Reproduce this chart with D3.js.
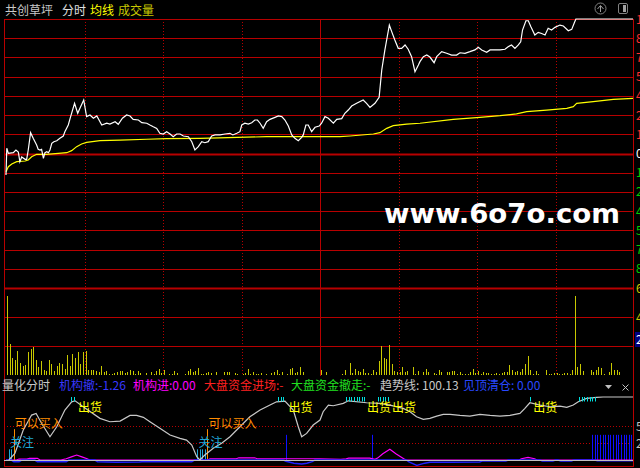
<!DOCTYPE html>
<html><head><meta charset="utf-8">
<script src="https://cdn.jsdelivr.net/npm/d3@7"></script>
<style>html,body{margin:0;padding:0;background:#000;overflow:hidden}svg{display:block}</style>
</head><body><svg id="c" width="640" height="468"></svg>
<script>
// ---------------- DATA ----------------
const stockName = "共创草坪";
const headerTabs = [["分时","#e0e0e0"],["均线","#ffff00"],["成交量","#c8c800"]];
// price line: [minute index, change %]
const priceLine = [[0,-1.60],[0.3,0.39],[0.9,0.01],[2.8,0.06],[3.8,0.26],[4.7,0.11],[5.3,-0.61],[6.0,-0.26],[7.3,-0.43],[7.9,-0.43],[8.5,0.26],[9.4,1.55],[10.4,1.13],[11.7,0.63],[12.3,0.31],[13.0,0.26],[13.6,0.31],[14.3,-0.36],[14.9,0.06],[15.6,0.13],[16.2,0.06],[16.8,0.26],[17.5,0.76],[18.3,0.88],[19.4,0.95],[20.6,1.13],[21.9,1.30],[22.5,1.62],[23.8,2.12],[24.7,2.74],[26.2,3.73],[27.4,2.99],[28.3,3.38],[29.7,3.98],[30.8,2.74],[32.1,2.86],[33.4,2.62],[34.7,2.79],[36.6,2.12],[38.5,2.25],[39.7,2.19],[41.7,2.36],[42.9,2.17],[44.5,2.62],[46.1,2.86],[47.4,2.79],[48.6,2.54],[50.6,2.49],[51.9,2.29],[53.8,2.25],[55.0,2.12],[56.3,1.99],[57.6,1.87],[58.8,1.50],[60.1,1.45],[61.4,1.62],[62.7,1.45],[63.9,1.25],[65.2,1.45],[66.5,1.45],[67.8,1.30],[69.7,1.25],[71.0,0.88],[72.2,0.26],[73.5,0.51],[74.8,0.88],[76.0,0.80],[77.3,0.88],[78.6,1.30],[79.9,1.38],[81.8,1.38],[83.7,1.45],[85.6,1.50],[86.7,1.38],[88.2,1.50],[89.4,1.62],[90.1,2.12],[91.3,2.25],[92.6,2.19],[93.9,2.29],[95.1,2.49],[96.1,2.49],[97.1,2.25],[98.3,1.87],[99.6,2.36],[100.9,2.54],[102.8,2.69],[104.1,2.79],[105.4,2.74],[106.6,2.49],[107.9,2.04],[109.2,1.38],[110.4,1.13],[111.7,0.95],[113.0,1.20],[113.6,1.38],[114.6,2.12],[115.5,2.12],[116.8,1.62],[118.1,1.95],[119.7,2.04],[120.6,2.25],[121.9,2.74],[123.2,2.62],[125.1,2.25],[126.4,2.54],[128.3,2.59],[129.5,2.99],[130.8,3.23],[132.1,3.53],[134.0,3.73],[136.5,3.98],[137.8,3.73],[139.1,3.43],[141.0,3.73],[142.6,4.18],[143.6,6.21],[144.8,7.70],[145.7,8.68],[146.5,9.55],[147.4,9.06],[148.6,8.44],[149.9,7.82],[151.2,7.82],[152.5,8.07],[153.7,7.75],[155.0,7.20],[156.3,6.08],[157.6,6.58],[158.2,6.83],[159.5,7.20],[160.8,7.32],[162.0,7.17],[163.6,6.75],[164.6,7.20],[166.5,7.57],[168.4,7.45],[170.3,7.32],[172.2,7.32],[173.5,7.49],[175.4,7.45],[177.3,7.57],[179.2,7.70],[180.5,7.90],[181.8,7.70],[183.7,7.52],[185.0,7.70],[188.8,7.70],[190.7,7.75],[191.9,7.94],[193.2,8.07],[194.5,7.82],[195.8,8.07],[196.7,8.31],[197.4,9.18],[198.7,9.87],[199.6,9.87],[200.6,9.43],[202.1,8.81],[203.4,9.01],[204.7,8.92],[206.0,8.81],[207.2,9.31],[208.5,9.18],[209.8,9.38],[211.7,9.55],[213.0,9.48],[214.9,9.13],[216.2,9.23],[217.2,9.72],[217.8,10.00],[240,10.00]];
// average price line: [minute, change %]
const avgLine = [[0,-1.35],[0.9,-0.98],[2.2,-0.78],[4.1,-0.61],[7.3,-0.56],[8.5,-0.48],[9.8,-0.24],[11.7,-0.06],[15.5,-0.06],[20.0,0.01],[23.2,0.06],[25.1,0.21],[27.0,0.51],[28.9,0.71],[30.8,0.83],[35.9,0.95],[43.6,1.00],[53.8,1.06],[61.4,1.10],[74.1,1.13],[99.6,1.25],[127.6,1.25],[131.5,1.30],[140.4,1.45],[142.9,1.55],[145.5,1.87],[148.0,2.07],[153.1,2.19],[158.2,2.25],[170.9,2.54],[181.1,2.69],[188.8,2.81],[195.1,2.94],[199.0,3.11],[206.6,3.23],[214.3,3.36],[216.8,3.48],[218.1,3.73],[224.4,3.85],[232.1,4.03],[240,4.10]];
// volume per minute (hands), index = minute 0..240
const volume = [5530,2170,1190,1050,1680,840,630,700,1610,1820,
1960,1050,560,980,350,280,1050,770,280,630,
840,770,420,1400,630,1470,1190,1610,770,1610,
1680,350,350,350,280,210,630,210,280,70,
70,140,210,280,280,140,210,350,280,70,
280,140,0,140,0,210,70,280,420,140,
350,0,70,70,280,140,0,0,70,280,
420,210,280,490,70,70,140,210,140,0,
210,0,0,210,210,210,0,140,70,0,
70,140,420,70,210,70,70,140,0,70,
0,140,210,350,70,210,0,70,420,490,
140,210,560,210,0,0,0,0,0,0,
350,0,210,0,0,0,0,0,70,350,
0,840,140,420,280,210,420,140,140,70,
350,210,980,2030,1190,1120,2100,770,280,210,
210,560,210,280,0,560,70,280,0,210,
420,210,0,140,70,350,210,0,210,210,
280,280,70,210,70,70,70,210,420,140,
280,70,210,140,140,70,70,140,70,140,
210,210,700,350,210,280,210,420,770,1330,
350,70,280,70,0,0,350,70,70,140,
140,70,70,140,140,70,350,5530,560,770,
280,0,0,350,210,350,560,490,70,0,
210,840,350,350,210,0,0,0,0,0,
0];
const priceTickSteps = [-7,-6,-5,-4,-3,-2,-1,0,1,2,3,4,5,6,7]; // ×10/7 %
const volTicks = [2030,4060,6090];
const timeTicks = [30,60,90,120,150,180,210];
// indicator (量化分时)
const trendLine = [[1.1,0],[3.4,10.6],[6.6,47.6],[9.8,71.4],[11.5,74.1],[13.6,58.3],[16.8,37.0],[19.4,52.9],[22.5,79.4],[25.1,92.5],[26.4,94.1],[29.5,84.6],[35.9,66.2],[39.7,60.8],[43.6,61.9],[47.4,70.9],[49.9,70.9],[52.5,67.8],[55.0,60.8],[58.8,50.3],[62.7,39.7],[66.5,34.4],[69.0,31.7],[71.0,23.8],[72.9,5.3],[74.1,0],[76.0,7.9],[79.2,18.5],[82.4,26.5],[85.6,37.0],[89.4,52.9],[93.2,68.8],[97.1,79.4],[100.9,87.3],[103.4,92.5],[106.6,93.7],[109.8,79.4],[111.7,52.9],[113.0,37.0],[114.9,42.3],[117.4,55.6],[120.0,63.5],[121.2,76.7],[123.2,87.3],[125.1,86.2],[128.9,90.0],[130.8,94.1],[137.8,91.0],[142.9,90.0],[146.7,87.3],[151.8,82.1],[154.4,76.7],[156.9,68.8],[159.5,64.6],[162.0,66.2],[164.6,69.8],[167.1,72.5],[169.7,72.5],[173.5,70.9],[177.3,69.8],[181.1,72.5],[185.0,70.9],[188.8,69.8],[192.6,70.9],[196.4,74.1],[198.3,82.1],[200.2,91.0],[204.1,87.3],[207.9,84.6],[211.7,85.7],[214.3,83.6],[216.8,87.3],[218.7,92.5],[221.9,97.9],[225.7,99.5],[228.2,100.13],[240,100.13]];
const instIn = [[0,0],[4,0],[5,1.5],[8,1.5],[9,2.6],[12,2.6],[13,0],[21,0],[23,2],[25,5],[27,7.9],[29,5],[31,2],[32,0],[77,0],[78,2],[88,2],[89,3.5],[95,3.5],[96,2],[120,2],[128,1],[130,2],[131,3],[139,3],[141,1],[142,3],[144,10],[146.7,17],[149,10],[152,2],[153,0],[196,0],[197,2],[199.5,4.2],[202,2],[203,0],[240,0]];
const instOut = [[0,0],[2,0],[3,-2.6],[5,-2.6],[6,0],[11,0],[12,-2.6],[23,-2.6],[24,0],[34,0],[35,-2.6],[42,-3.5],[51,-3.2],[52,-2.6],[71,-2.6],[72,0],[106,0],[107,-2],[110,-5],[113,-6.3],[115,-5],[117,-2.6],[118,0],[153,0],[154,-3],[157,-8.5],[160,-5],[162,-3.5],[170,-3.5],[181,-3],[182,-1.6],[191,-1.6],[192,0],[204,0],[205,-1.6],[209,-1.6],[210,0],[211,0],[212,-1.6],[216,-1.6],[217,0],[225,0],[226,-1.26],[240,-1.26]];
const topSignalMins = [107,140,224,225,226,227,228,229,230,231,232,233,234,235,236,237,238,239,240]; // blue sticks
const watchMins = [1,2,3,73,74,75,76,77];          // 关注 sticks
const buyMins = [3,77];                            // 可以买入
const sellComb = [[25,26.4],[103.6,106.6],[129.5,137.2],[141.8,146],[200.2,200.2],[218.6,225.8]];
const buyLabels = [[3,"可以买入"],[77,"可以买入"]];
const watchLabels = [[1.5,"关注"],[73.6,"关注"]];
const sellLabels = [[27.5,"出货"],[108,"出货"],[138,"出货"],[147.5,"出货"],[201.5,"出货"]];
const indTicks = [27,54];
const indHeader = [["量化分时","#c8c8c8",2],["机构撤:-1.26","#3838ff",59],["机构进:0.00","#ff00ff",133],["大盘资金进场:-","#ff2020",204],["大盘资金撤走:-","#20e020",291],["趋势线: 100.13","#c8c8c8",380],["见顶清仓: 0.00","#2848ff",463]];

// ---------------- DRAW ----------------
const svg = d3.select("#c");
const F = "'Noto Sans CJK SC','Noto Sans',sans-serif";
const RED = "#b80000";
const L = 4, R = 633;
svg.append("rect").attr("width",640).attr("height",468).attr("fill","#000");

const x = d3.scaleLinear().domain([0,240]).range([6,634]);
const yP = d3.scaleLinear().domain([-10,10]).range([288,19]);
const yV = d3.scaleLinear().domain([0,6090]).range([375,288]);
const yI = d3.scaleLinear().domain([0,100.13]).range([460,397]);

const defs = svg.append("defs");
defs.append("clipPath").attr("id","cm").append("rect").attr("x",L).attr("y",17).attr("width",R-L).attr("height",272);
defs.append("clipPath").attr("id","ci").append("rect").attr("x",L).attr("y",392).attr("width",R-L).attr("height",74);

// horizontal grid main
const g = svg.append("g");
priceTickSteps.forEach(k=>{
  const v = k*10/7, yy = Math.round(yP(v))+0.5;
  g.append("line").attr("x1",L).attr("x2",R).attr("y1",yy).attr("y2",yy)
    .attr("stroke",RED).attr("stroke-width",(k===0||k===-7)?2:1);
});
volTicks.slice(0,2).forEach(v=>{
  const yy = Math.round(yV(v))+0.5;
  g.append("line").attr("x1",L).attr("x2",R).attr("y1",yy).attr("y2",yy).attr("stroke",RED);
});
// vertical grid
timeTicks.forEach(t=>{
  const xx = Math.round(x(t))+0.5;
  g.append("line").attr("x1",xx).attr("x2",xx).attr("y1",19).attr("y2",376)
    .attr("stroke",RED).attr("stroke-dasharray",t===120?null:"1,2");
});
// borders
g.append("line").attr("x1",L+0.5).attr("x2",L+0.5).attr("y1",19).attr("y2",467).attr("stroke",RED);
g.append("line").attr("x1",R+0.5).attr("x2",R+0.5).attr("y1",19).attr("y2",467).attr("stroke",RED);
g.append("line").attr("x1",L).attr("x2",R+1).attr("y1",466.5).attr("y2",466.5).attr("stroke",RED);

// volume bars
svg.append("g").selectAll("line").data(volume.map((v,i)=>[i,v]).filter(d=>d[1]>0)).join("line")
  .attr("x1",d=>Math.round(x(d[0]))+1.5).attr("x2",d=>Math.round(x(d[0]))+1.5)
  .attr("y1",375).attr("y2",d=>Math.round(yV(d[1])))
  .attr("stroke","#c8c800");

// price & average
const lineP = d3.line().x(d=>x(d[0])).y(d=>yP(d[1]));
const mg = svg.append("g").attr("clip-path","url(#cm)");
mg.append("path").attr("d",lineP(avgLine)).attr("fill","none").attr("stroke","#ffff00").attr("stroke-width",1.2);
mg.append("path").attr("d",lineP(priceLine)).attr("fill","none").attr("stroke","#ffffff").attr("stroke-width",1.2);

// right axis labels
const ax = svg.append("g").style("font-family",F).style("font-size","12px");
priceTickSteps.filter(k=>k>-7).forEach(k=>{
  const v = k*10/7;
  ax.append("text").attr("x",636).attr("y",yP(v)+4.5)
    .attr("fill",k>0?"#ff3030":(k<0?"#00d000":"#ffffff"))
    .text(Math.abs(v).toFixed(2)+"%");
});
volTicks.forEach((v,i)=>{
  if(i===0){
    ax.append("rect").attr("x",635).attr("y",332).attr("width",6).attr("height",15).attr("fill","#000080");
    ax.append("text").attr("x",636).attr("y",344).attr("fill","#ffffff").text(v);
  } else {
    ax.append("text").attr("x",636).attr("y",yV(v)+4.5).attr("fill","#c8c800").text(v);
  }
});

// header
const hd = svg.append("g").style("font-family",F).style("font-size","12px");
hd.append("text").attr("x",5).attr("y",15).attr("fill","#c8c8c8").text(stockName);
let hx = 62;
headerTabs.forEach(([t,c])=>{ hd.append("text").attr("x",hx).attr("y",15).attr("fill",c).text(t); hx += t.length*12+4; });
// icons
hd.append("circle").attr("cx",600.5).attr("cy",8.5).attr("r",5.5).attr("fill","none").attr("stroke","#808080");
hd.append("path").attr("d","M597.5,9 L600.5,5.5 L603.5,9 M600.5,6 V12").attr("stroke","#a0a0a0").attr("fill","none");
hd.append("rect").attr("x",618.5).attr("y",3.5).attr("width",9).attr("height",10).attr("rx",1.5).attr("fill","none").attr("stroke","#808080");
hd.append("rect").attr("x",623).attr("y",5).attr("width",3).attr("height",7).attr("fill","#a0a0a0");

// watermark
svg.append("text").attr("x",384).attr("y",223).attr("fill","#ffffff")
  .style("font-family","'DejaVu Sans',sans-serif").style("font-weight","bold").style("font-size","26px")
  .attr("textLength",236).attr("lengthAdjust","spacingAndGlyphs").text("www.6o7o.com");

// indicator header
const ih = svg.append("g").style("font-family",F).style("font-size","12px");
indHeader.forEach(([t,c,xx])=>ih.append("text").attr("x",xx).attr("y",390).attr("fill",c).text(t));
ih.append("path").attr("d","M605,385 L612,385 L608.5,389 Z").attr("fill","#c0c0c0");
ih.append("path").attr("d","M622.5,384.5 L628.5,390.5 M628.5,384.5 L622.5,390.5").attr("stroke","#c0c0c0");

// indicator panel
const ig = svg.append("g").attr("clip-path","url(#ci)");
indTicks.forEach(v=>{
  const yy = Math.round(yI(v))+0.5;
  ig.append("line").attr("x1",L).attr("x2",R).attr("y1",yy).attr("y2",yy).attr("stroke",RED).attr("stroke-dasharray","1,2");
});
indTicks.forEach(v=>ax.append("text").attr("x",636).attr("y",yI(v)+4.5).attr("fill","#c0c0c0").text(v.toFixed(2)));
const lineI = d3.line().x(d=>x(d[0])).y(d=>yI(d[1]));
// blue top-signal sticks
topSignalMins.forEach(m=>ig.append("line").attr("x1",Math.round(x(m))+0.5).attr("x2",Math.round(x(m))+0.5)
  .attr("y1",yI(0)).attr("y2",yI(40)).attr("stroke","#1010ff"));
// watch sticks
watchMins.forEach(m=>ig.append("line").attr("x1",Math.round(x(m))+0.5).attr("x2",Math.round(x(m))+0.5)
  .attr("y1",yI(0)).attr("y2",yI(17)).attr("stroke","#20a8d8"));
// buy lines
buyMins.forEach(m=>ig.append("line").attr("x1",Math.round(x(m))+0.5).attr("x2",Math.round(x(m))+0.5)
  .attr("y1",yI(0)).attr("y2",yI(49)).attr("stroke","#ff8c00"));
ig.append("path").attr("d",lineI(instIn)).attr("fill","none").attr("stroke","#ff00ff").attr("stroke-width",1.2);
ig.append("path").attr("d",lineI(instOut)).attr("fill","none").attr("stroke","#2020ff").attr("stroke-width",1.5);
ig.append("line").attr("x1",L).attr("x2",R).attr("y1",Math.round(yI(0))+0.5).attr("y2",Math.round(yI(0))+0.5).attr("stroke","#c0c0c0");
ig.append("path").attr("d",lineI(trendLine)).attr("fill","none").attr("stroke","#c8c8c8").attr("stroke-width",1.2);
// sell combs
sellComb.forEach(([a,b])=>{
  for(let m=Math.ceil(a);m<=Math.floor(b)+0.001||m===Math.ceil(a);m++){
    const xx = Math.round(x(Math.min(m,b)))+0.5;
    ig.append("line").attr("x1",xx).attr("x2",xx).attr("y1",yI(100.13)).attr("y2",yI(93)).attr("stroke","#00e0e0");
    if(m>=Math.floor(b)) break;
  }
});
// labels
const lg = svg.append("g").style("font-family",F).style("font-size","12px");
buyLabels.forEach(([m,t])=>lg.append("text").attr("x",x(m)+1).attr("y",428).attr("fill","#ff8c00").text(t));
watchLabels.forEach(([m,t])=>lg.append("text").attr("x",x(m)).attr("y",447).attr("fill","#20a8d8").text(t));
sellLabels.forEach(([m,t])=>lg.append("text").attr("x",x(m)).attr("y",412).attr("fill","#ffff00").text(t));
</script></body></html>
